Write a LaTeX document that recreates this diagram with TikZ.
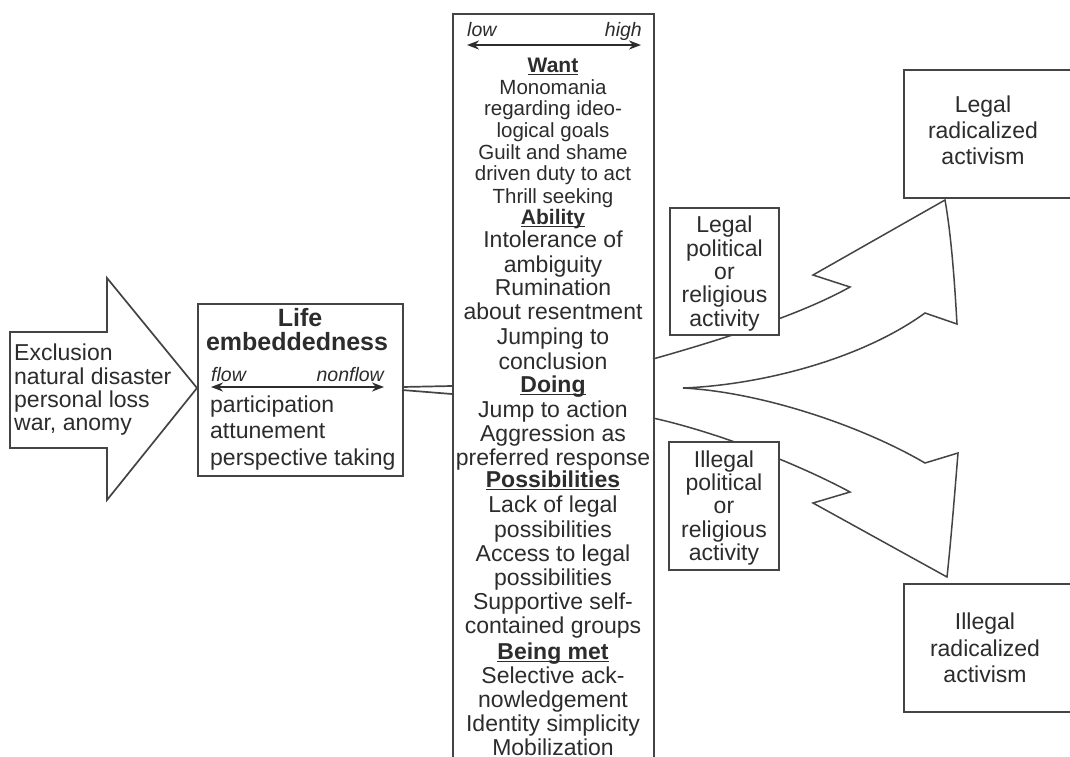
\documentclass[tikz,border=0pt]{standalone}
\usepackage{fontspec}
\setmainfont{Liberation Sans}
\usetikzlibrary{arrows.meta}
\definecolor{ink}{HTML}{2c2c2c}
\definecolor{edge}{HTML}{444444}
\newcommand\hdul[1]{\underline{\smash{#1}}}
\begin{document}
\begin{tikzpicture}[x=1pt,y=-1pt,
  box/.style={draw=edge, line width=1.9pt, fill=white, inner sep=0pt},
  base/.style={text=ink, inner sep=0pt, anchor=mid, yshift=-5pt},
  txt/.style={base, font=\fontsize{23}{23}\selectfont},
  ltxt/.style={txt, anchor=mid west},
  smalltxt/.style={base, font=\fontsize{20.5}{22}\selectfont},
  hdsmall/.style={base, font=\fontsize{21}{22}\selectfont\bfseries},
  hd/.style={base, font=\fontsize{23}{23}\selectfont\bfseries},
  itl/.style={base, font=\fontsize{19.5}{20}\selectfont\itshape},
  dblarrow/.style={draw=ink, line width=2.8pt, {Stealth[length=12pt,width=9pt]}-{Stealth[length=12pt,width=9pt]}},
  outline/.style={draw=edge, line width=1.5pt, line join=miter},
  multi/.style={text=ink, inner sep=0pt, align=center, yshift=-2pt, font=\fontsize{23}{23.3}\selectfont}
]
\useasboundingbox (0,0) rectangle (1070,756);
\fill[white] (0,0) rectangle (1070,756);
\clip (0,0) rectangle (1070,756);

% ---- left arrow ----
\draw[outline, fill=white, line width=1.7pt] (10,332) -- (107,332) -- (107,278) -- (197,388) -- (107,500) -- (107,448) -- (10,448) -- cycle;
\node[ltxt] (ex1) at (14,353) {Exclusion};
\node[ltxt] (ex2) at (14,377) {natural disaster};
\node[ltxt] (ex3) at (14,400) {personal loss};
\node[ltxt] (ex4) at (14,423) {war, anomy};

% ---- life embeddedness box ----
\node[box, anchor=north west, minimum width=205pt, minimum height=172pt] (life) at (197,303) {};
\node[base, font=\fontsize{25}{25}\selectfont\bfseries] (lifeA) at (300,319) {Life};
\node[base, font=\fontsize{25}{25}\selectfont\bfseries] (lifeB) at (297,343) {embeddedness};
\node[itl, anchor=mid west] (flow) at (211,374) {flow};
\node[itl, anchor=mid east] (nonflow) at (384,374) {nonflow};
\coordinate (fl1) at (211,387);
\coordinate (fl2) at (384,387);
\draw[dblarrow] (fl1) -- (fl2);
\node[ltxt] (le1) at (210,405) {participation};
\node[ltxt] (le2) at (210,431) {attunement};
\node[ltxt] (le3) at (210,458) {perspective taking};

% ---- central column ----
\node[box, anchor=north west, minimum width=201pt, minimum height=800pt] (col) at (452,13) {};
\node[itl, anchor=mid west] (low) at (467,29) {low};
\node[itl, anchor=mid east] (high) at (642,29) {high};
\coordinate (lh1) at (467,45);
\coordinate (lh2) at (641,45);
\draw[dblarrow] (lh1) -- (lh2);

\foreach \yy/\tt in {65/Want,217/Ability}
  \node[hdsmall] (h\yy) at (553,\yy) {\hdul{\tt}};
\foreach \yy/\tt in {385/Doing,480/Possibilities,652/Being met}
  \node[hd] (h\yy) at (553,\yy) {\hdul{\tt}};
\foreach \yy/\tt in {87/Monomania,108/regarding ideo-,130/logical goals,152/Guilt and shame,173/driven duty to act,196/Thrill seeking}
  \node[smalltxt] (s\yy) at (553,\yy) {\tt};
\foreach \yy/\tt in {240/Intolerance of,265/ambiguity,288/Rumination,312/about resentment,337/Jumping to,362/conclusion,410/Jump to action,434/Aggression as,458/preferred response,505/Lack of legal,530/possibilities,554/Access to legal,578/possibilities,602/Supportive self-,626/contained groups,676/Selective ack-,700/nowledgement,724/Identity simplicity,748/Mobilization}
  \node[txt] (t\yy) at (553,\yy) {\tt};

% ---- connector life -> column ----
\coordinate (ca1) at (402,387);
\coordinate (ca2) at (402,390);
\coordinate (cb1) at (452,386);
\coordinate (cb2) at (452,394);
\draw[outline, line width=1.7pt] (ca1) -- (cb1);
\draw[outline, line width=1.7pt] (ca2) -- (cb2);

% ---- forked arrow ----
\draw[outline]
  (653,359) .. controls (720,340) and (800,315) .. (850,287)
  -- (813,275) -- (945,200)
  .. controls (952,240) and (955,290) .. (957,324)
  -- (925,313)
  .. controls (860,360) and (760,385) .. (683,388)
  .. controls (760,392) and (860,425) .. (925,463)
  -- (958,453)
  .. controls (955,490) and (951,540) .. (947,577)
  -- (813,503) -- (850,492)
  .. controls (800,465) and (720,433) .. (653,418);

% ---- activity boxes ----
\node[box, anchor=north west, minimum width=109pt, minimum height=127pt] (legal) at (669,207) {};
\node[multi] (legalT) at (legal.center) {Legal\\political\\or\\religious\\activity};
\node[box, anchor=north west, minimum width=110pt, minimum height=128pt] (illegal) at (668,441) {};
\node[multi] (illegalT) at (illegal.center) {Illegal\\political\\or\\religious\\activity};

% ---- outcome boxes ----
\node[box, anchor=north west, minimum width=190pt, minimum height=128pt] (lrad) at (903,69) {};
\node[multi, yshift=2pt, font=\fontsize{23}{26}\selectfont] (lradT) at (983,130) {Legal\\radicalized\\activism};
\node[box, anchor=north west, minimum width=190pt, minimum height=128pt] (irad) at (903,583) {};
\node[multi, yshift=2pt, font=\fontsize{23}{26.5}\selectfont] (iradT) at (985,648) {Illegal\\radicalized\\activism};
\end{tikzpicture}
\end{document}
